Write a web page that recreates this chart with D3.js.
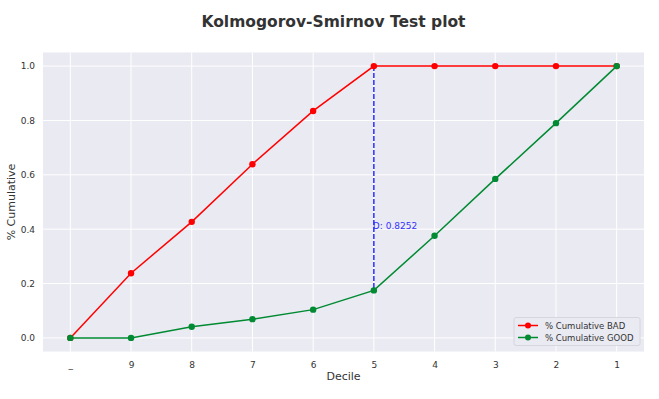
<!DOCTYPE html>
<html>
<head>
<meta charset="utf-8">
<script src="https://cdn.jsdelivr.net/npm/d3@7"></script>
<style>
  body { margin: 0; background: #fff; }
  text { font-family: "DejaVu Sans", sans-serif; }
</style>
</head>
<body>
<script>
var deciles = ["_", "9", "8", "7", "6", "5", "4", "3", "2", "1"];
var cumBad = [0, 0.238, 0.427, 0.639, 0.835, 1.0, 1.0, 1.0, 1.0, 1.0];
var cumGood = [0, 0, 0.041, 0.069, 0.104, 0.1748, 0.376, 0.585, 0.790, 1.0];
var yTicks = [0, 0.2, 0.4, 0.6, 0.8, 1.0];
var ksIndex = 5;
var ksValue = 0.8252;

var svgWidth = 659;
var svgHeight = 399;
var margin = { top: 52.5, right: 15, bottom: 47.5, left: 43 };
var width = svgWidth - margin.left - margin.right;
var height = svgHeight - margin.top - margin.bottom;

var svg = d3.select("body")
  .append("svg")
  .attr("width", svgWidth)
  .attr("height", svgHeight);

svg.append("text")
  .attr("x", svgWidth / 2 + 4)
  .attr("y", 27)
  .attr("text-anchor", "middle")
  .style("font-size", "15.5px")
  .style("font-weight", "bold")
  .style("fill", "#333")
  .text("Kolmogorov-Smirnov Test plot");

var plot = svg.append("g")
  .attr("transform", `translate(${margin.left}, ${margin.top})`);

// 5% padding like matplotlib
var xScale = d3.scaleLinear()
  .domain([-0.45, deciles.length - 1 + 0.45])
  .range([0, width]);
var yScale = d3.scaleLinear()
  .domain([-0.05, 1.05])
  .range([height, 0]);

plot.append("rect")
  .attr("width", width)
  .attr("height", height)
  .attr("fill", "#eaeaf2");

// grid
plot.selectAll(".vgrid")
  .data(deciles)
  .enter()
  .append("line")
  .attr("x1", (d, i) => xScale(i))
  .attr("x2", (d, i) => xScale(i))
  .attr("y1", 0)
  .attr("y2", height)
  .attr("stroke", "#fff")
  .attr("stroke-width", 1);

plot.selectAll(".hgrid")
  .data(yTicks)
  .enter()
  .append("line")
  .attr("x1", 0)
  .attr("x2", width)
  .attr("y1", d => yScale(d))
  .attr("y2", d => yScale(d))
  .attr("stroke", "#fff")
  .attr("stroke-width", 1);

// axes
var xAxis = d3.axisBottom(xScale)
  .tickValues(d3.range(deciles.length))
  .tickFormat(i => deciles[i])
  .tickSize(0)
  .tickPadding(10);
var yAxis = d3.axisLeft(yScale)
  .tickValues(yTicks)
  .tickFormat(d3.format(".1f"))
  .tickSize(0)
  .tickPadding(8);

var gx = plot.append("g")
  .attr("transform", `translate(0, ${height})`)
  .call(xAxis);
var gy = plot.append("g").call(yAxis);
[gx, gy].forEach(function(g) {
  g.select(".domain").remove();
  g.selectAll("text")
    .style("font-size", "9px")
    .style("font-family", "DejaVu Sans, sans-serif")
    .attr("fill", "#333");
});

plot.append("text")
  .attr("x", width / 2)
  .attr("y", height + 28)
  .attr("text-anchor", "middle")
  .style("font-size", "11px")
  .style("fill", "#333")
  .text("Decile");

plot.append("text")
  .attr("transform", "rotate(-90)")
  .attr("x", -height / 2)
  .attr("y", -28)
  .attr("text-anchor", "middle")
  .style("font-size", "11px")
  .style("fill", "#333")
  .text("% Cumulative");

var line = d3.line()
  .x((d, i) => xScale(i))
  .y(d => yScale(d));

var series = [
  { name: "% Cumulative BAD", values: cumBad, color: "#ff0000" },
  { name: "% Cumulative GOOD", values: cumGood, color: "#008a32" }
];

// KS line
plot.append("line")
  .attr("x1", xScale(ksIndex))
  .attr("x2", xScale(ksIndex))
  .attr("y1", yScale(cumBad[ksIndex]))
  .attr("y2", yScale(cumGood[ksIndex]))
  .attr("stroke", "#2b2bff")
  .attr("stroke-width", 1.5)
  .attr("stroke-dasharray", "5,2");

plot.append("text")
  .attr("x", xScale(ksIndex) - 1)
  .attr("y", yScale(ksValue / 2) + 3)
  .style("font-size", "9px")
  .style("fill", "#3333ff")
  .text("D: " + ksValue.toFixed(4));

series.forEach(function(s) {
  plot.append("path")
    .datum(s.values)
    .attr("d", line)
    .attr("fill", "none")
    .attr("stroke", s.color)
    .attr("stroke-width", 1.5);

  plot.selectAll(null)
    .data(s.values)
    .enter()
    .append("circle")
    .attr("cx", (d, i) => xScale(i))
    .attr("cy", d => yScale(d))
    .attr("r", 3.2)
    .attr("fill", s.color);
});

// legend
var legend = plot.append("g")
  .attr("transform", `translate(${width - 130}, ${height - 34})`);

legend.append("rect")
  .attr("width", 126)
  .attr("height", 28)
  .attr("rx", 2)
  .attr("fill", "#eaeaf2")
  .attr("stroke", "#d0d0d8")
  .attr("stroke-width", 0.8);

series.forEach(function(s, i) {
  var g = legend.append("g")
    .attr("transform", `translate(4, ${8 + i * 12})`);
  g.append("line")
    .attr("x1", 0)
    .attr("x2", 20)
    .attr("stroke", s.color)
    .attr("stroke-width", 1.5);
  g.append("circle")
    .attr("cx", 10)
    .attr("r", 3)
    .attr("fill", s.color);
  g.append("text")
    .attr("x", 27)
    .attr("y", 3)
    .style("font-size", "8.5px")
    .style("fill", "#333")
    .text(s.name);
});
</script>
</body>
</html>
